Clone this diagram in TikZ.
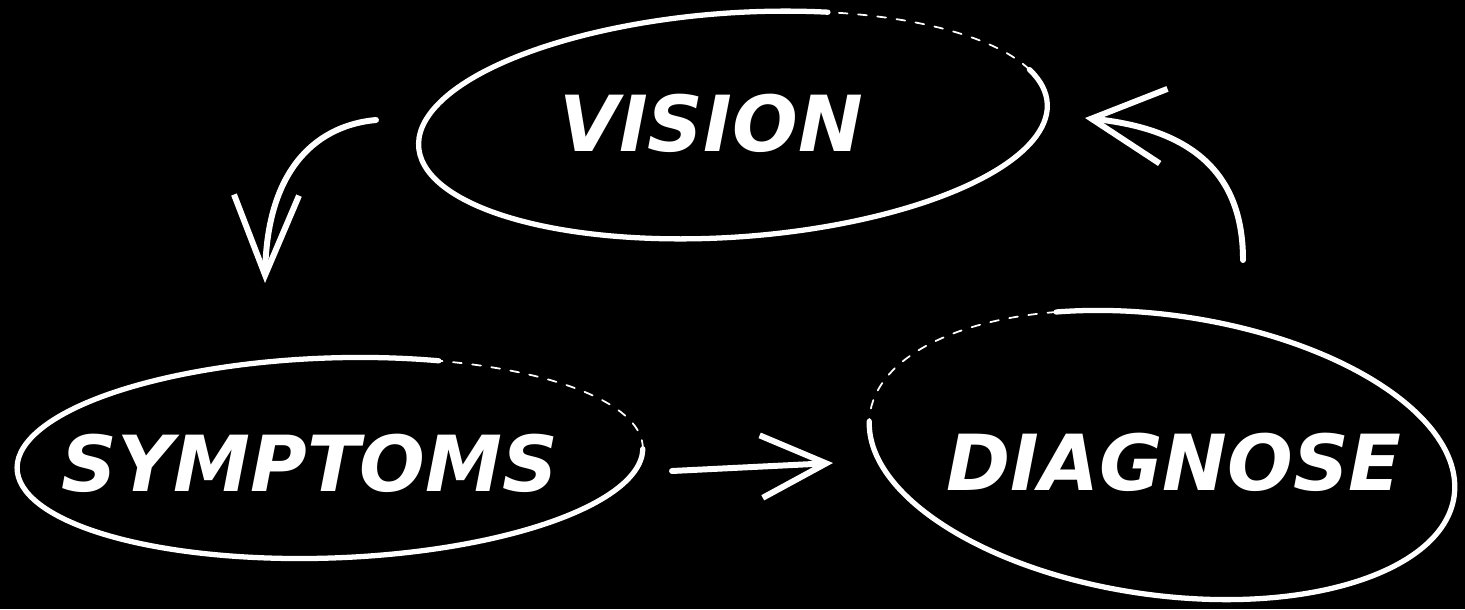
\documentclass[tikz,border=0pt]{standalone}
\usepackage{fontspec}
\usepackage{tikz}
\usetikzlibrary{arrows.meta,calc}
\newfontfamily\wordfont{DejaVu Sans}

\tikzset{
  chalk/.style={draw=white, line width=3pt, line cap=round, line join=round},
  chalkgap/.style={draw=white, line width=1pt, line cap=round, dash pattern=on 5pt off 6pt},
  chalkarrow/.style={draw=white, line width=3.4pt, line cap=round, line join=round},
  word/.style={text=white, inner sep=0pt, font=\wordfont\bfseries\itshape\fontsize{44}{50}\selectfont}
}

\begin{document}
\begin{tikzpicture}
  \fill[black] (0,0) rectangle (29.3,-12.18);
  \useasboundingbox (0,0) rectangle (29.3,-12.18);

  % Vision
  \node[word] (vision) at (14.22,-2.47) {VISION};
  \begin{scope}[shift={(14.66,-2.5)}, rotate=4]
    \draw[chalk] (71:6.3 and 2.24) arc[start angle=71, end angle=378, x radius=6.3, y radius=2.24];
    \draw[chalkgap] (18:6.3 and 2.24) arc[start angle=18, end angle=71, x radius=6.3, y radius=2.24];
  \end{scope}

  % Symptoms
  \node[word] (symptoms) at (6.2,-9.26) {SYMPTOMS};
  \begin{scope}[shift={(6.6,-9.16)}, rotate=2]
    \draw[chalk] (69:6.26 and 2.0) arc[start angle=69, end angle=359, x radius=6.26, y radius=2.0];
    \draw[chalkgap] (-1:6.26 and 2.0) arc[start angle=-1, end angle=69, x radius=6.26, y radius=2.0];
  \end{scope}

  % Diagnose
  \node[word] (diagnose) at (23.48,-9.24) {DIAGNOSE};
  \begin{scope}[shift={(23.24,-9.1)}, rotate=-8]
    \draw[chalk] (183:5.9 and 2.8) arc[start angle=183, end angle=475, x radius=5.9, y radius=2.8];
    \draw[chalkgap] (115:5.9 and 2.8) arc[start angle=115, end angle=183, x radius=5.9, y radius=2.8];
  \end{scope}

  % Connectors
  \coordinate (vs-from) at (7.52,-2.40);
  \coordinate (vs-to) at (5.30,-5.66);
  \coordinate (sd-from) at (13.44,-9.42);
  \coordinate (sd-to) at (16.66,-9.26);
  \coordinate (dv-from) at (24.86,-5.20);
  \coordinate (dv-to) at (21.70,-2.36);

  \draw[chalkarrow, -{Straight Barb[length=1.6cm, width=1.3cm]}]
    (vs-from) .. controls (6.4,-2.5) and (5.34,-3.3) .. (vs-to);
  \draw[chalkarrow, -{Straight Barb[length=1.3cm, width=1.25cm]}]
    (sd-from) -- (sd-to);
  \draw[chalkarrow, -{Straight Barb[length=1.45cm, width=1.5cm]}]
    (dv-from) .. controls (24.86,-3.6) and (24.0,-2.6) .. (dv-to);
\end{tikzpicture}
\end{document}
